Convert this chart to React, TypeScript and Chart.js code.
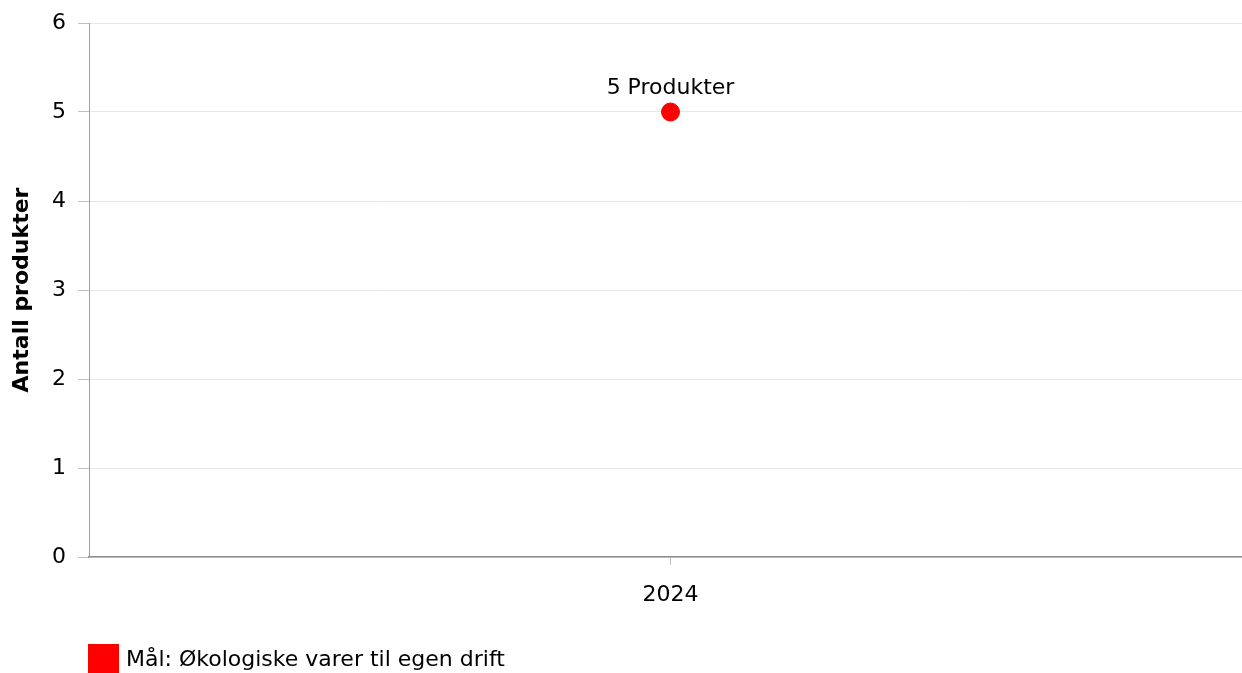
import React, { useEffect, useRef } from 'react';
import { Chart, registerables } from 'chart.js';

Chart.register(...registerables);

const years = ['2024'];
const products = [5];
const pointLabels = ['5 Produkter'];
const yTicks = [0, 1, 2, 3, 4, 5, 6];
const seriesName = 'Mål: Økologiske varer til egen drift';
const seriesColor = '#ff0000';
const font = 'DejaVu Sans, Verdana, sans-serif';

// draws the text above each point
const pointLabelPlugin = {
  id: 'pointLabel',
  afterDatasetsDraw(chart: Chart) {
    const { ctx } = chart;
    const meta = chart.getDatasetMeta(0);
    ctx.save();
    ctx.font = `22px ${font}`;
    ctx.fillStyle = '#000';
    ctx.textAlign = 'center';
    ctx.textBaseline = 'alphabetic';
    meta.data.forEach((pt, i) => {
      ctx.fillText(pointLabels[i], pt.x, pt.y - 18);
    });
    ctx.restore();
  },
};

export default function App() {
  const canvasRef = useRef<HTMLCanvasElement>(null);

  useEffect(() => {
    document.body.style.margin = '0';
    document.body.style.overflow = 'hidden';
    if (!canvasRef.current) return;
    const chart = new Chart(canvasRef.current, {
      type: 'line',
      data: {
        labels: years,
        datasets: [{
          label: seriesName,
          data: products,
          borderColor: seriesColor,
          backgroundColor: seriesColor,
          pointRadius: 9,
          pointHoverRadius: 9,
          showLine: false,
        }],
      },
      options: {
        animation: false,
        responsive: false,
        maintainAspectRatio: false,
        layout: { padding: { top: 23 } },
        plugins: {
          legend: { display: false },
          tooltip: { enabled: false },
        },
        scales: {
          x: {
            offset: true,
            grid: { drawOnChartArea: false, offset: false, tickLength: 8, tickColor: '#c0c0c0' },
            border: { color: '#8c8c8c', width: 1.5 },
            ticks: { color: '#000', font: { family: font, size: 22 }, padding: 17 },
            afterFit: (s: any) => { s.height = 116; },
          },
          y: {
            min: yTicks[0],
            max: yTicks[yTicks.length - 1],
            grid: { color: '#e6e6e6', tickLength: 11, tickColor: '#c0c0c0' },
            border: { color: '#a0a0a0' },
            ticks: { stepSize: 1, color: '#000', font: { family: font, size: 22 }, padding: 12 },
            title: {
              display: true,
              text: 'Antall produkter',
              color: '#000',
              font: { family: font, size: 22, weight: 'bold' },
              padding: { top: 9, bottom: 0 },
            },
            afterFit: (s: any) => { s.width = 89; s.paddingTop = 0; s.paddingBottom = 0; },
          },
        },
      },
      plugins: [pointLabelPlugin],
    });
    return () => chart.destroy();
  }, []);

  return (
    <div style={{ position: 'relative', width: 1242, height: 673, overflow: 'hidden', fontFamily: font }}>
      <canvas ref={canvasRef} width={1262} height={673} style={{ display: 'block' }} />
      <div style={{ position: 'absolute', left: 88, top: 644, display: 'flex', alignItems: 'center', height: 29 }}>
        <span style={{ display: 'inline-block', width: 31, height: 29, background: seriesColor }} />
        <span style={{ marginLeft: 7, fontSize: 22, color: '#000' }}>{seriesName}</span>
      </div>
    </div>
  );
}
